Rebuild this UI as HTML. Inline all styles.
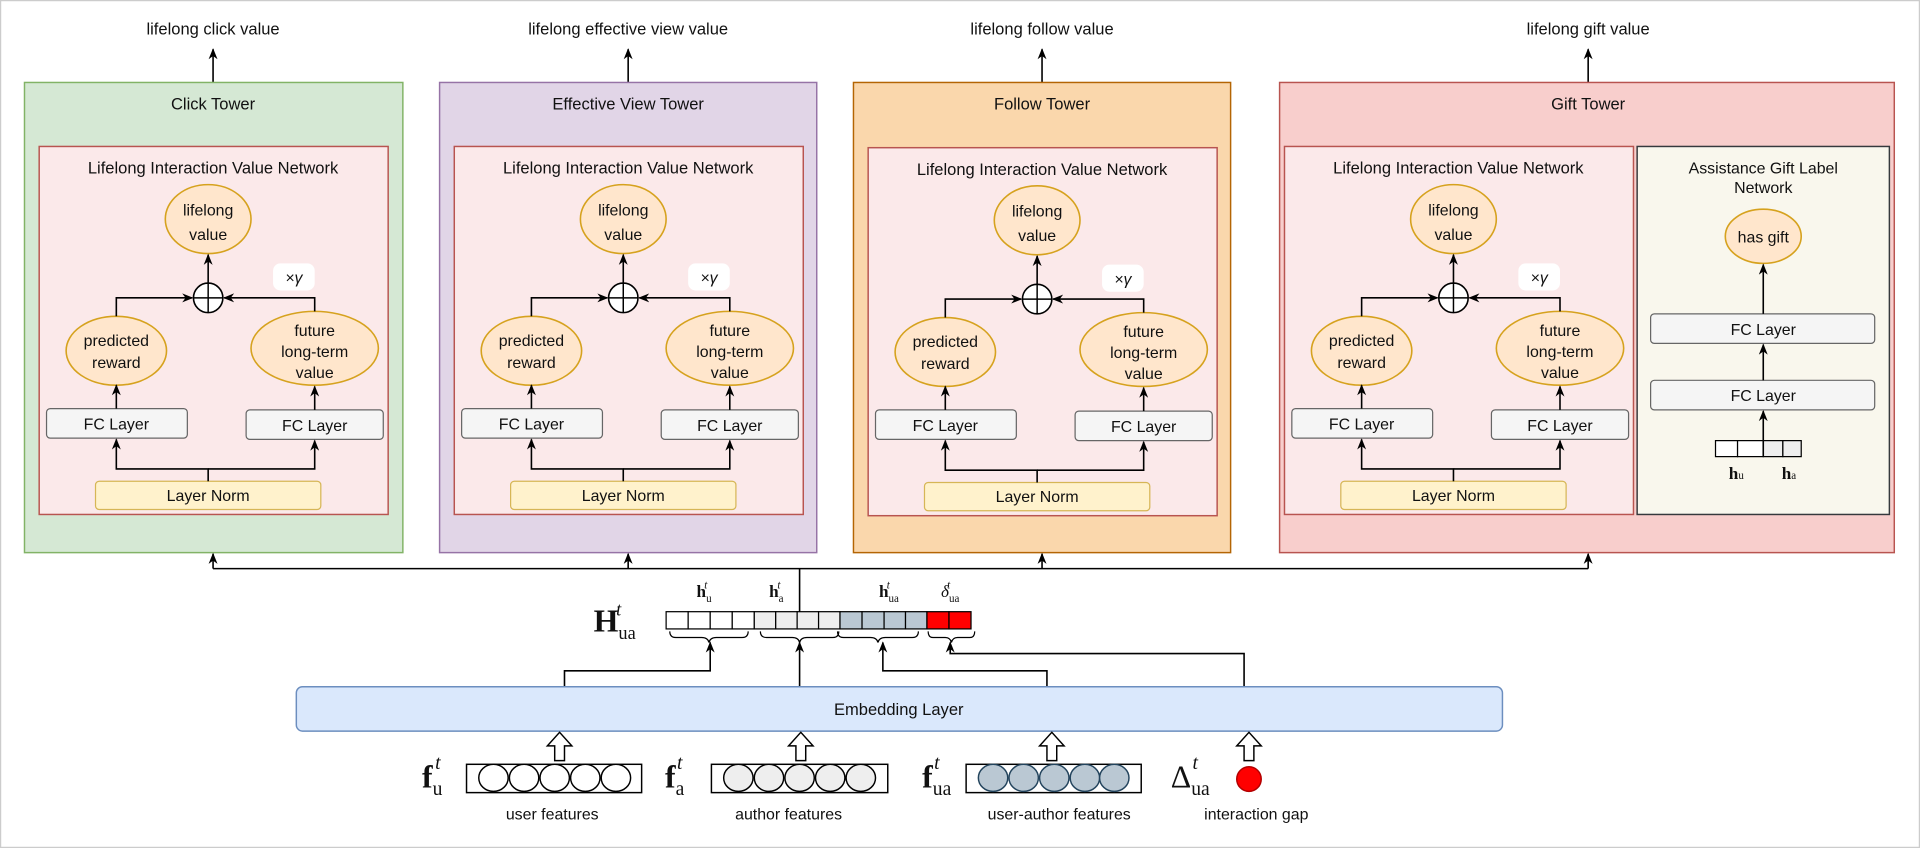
<!DOCTYPE html>
<html><head><meta charset="utf-8"><style>
html,body{margin:0;padding:0;background:#fff;}
svg{display:block;}
text{font-family:"Liberation Sans",sans-serif;fill:#111;}
.m text,text.m{font-family:"Liberation Serif",serif;}
</style></head><body>
<svg width="1920" height="848" viewBox="0 0 1568 689" preserveAspectRatio="none" xmlns="http://www.w3.org/2000/svg">
<defs>
<marker id="a" viewBox="0 0 10 10" refX="9" refY="5" markerWidth="7" markerHeight="7" orient="auto-start-reverse"><path d="M0,1 L10,5 L0,9 L3,5 z" fill="#000"/></marker>
<g id="net">
  <rect x="32" y="119" width="285" height="299" fill="#fbe9ea" stroke="#b85450" stroke-width="1.2"/>
  <text x="174" y="141" font-size="13.5" text-anchor="middle">Lifelong Interaction Value Network</text>
  <ellipse cx="170" cy="178" rx="35" ry="28" fill="#ffe6cc" stroke="#d6a21e" stroke-width="1.3"/>
  <text x="170" y="175" font-size="13" text-anchor="middle">lifelong</text>
  <text x="170" y="195" font-size="13" text-anchor="middle">value</text>
  <circle cx="170" cy="242" r="12" fill="#fff" stroke="#000" stroke-width="1.3"/>
  <path d="M158,242H182M170,230V254" stroke="#000" stroke-width="1.2"/>
  <rect x="223" y="214" width="34" height="22" rx="6" fill="#fff"/>
  <text x="240" y="230" font-size="13" text-anchor="middle" font-style="italic">×γ</text>
  <ellipse cx="95" cy="285" rx="41" ry="28" fill="#ffe6cc" stroke="#d6a21e" stroke-width="1.3"/>
  <text x="95" y="281" font-size="13" text-anchor="middle">predicted</text>
  <text x="95" y="299" font-size="13" text-anchor="middle">reward</text>
  <ellipse cx="257" cy="283" rx="52" ry="30" fill="#ffe6cc" stroke="#d6a21e" stroke-width="1.3"/>
  <text x="257" y="273" font-size="13" text-anchor="middle">future</text>
  <text x="257" y="290" font-size="13" text-anchor="middle">long-term</text>
  <text x="257" y="307" font-size="13" text-anchor="middle">value</text>
  <rect x="38" y="332" width="115" height="24" rx="3" fill="#f5f5f5" stroke="#666"/>
  <text x="95" y="349" font-size="13" text-anchor="middle">FC Layer</text>
  <rect x="201" y="333" width="112" height="24" rx="3" fill="#f5f5f5" stroke="#666"/>
  <text x="257" y="350" font-size="13" text-anchor="middle">FC Layer</text>
  <rect x="78" y="391" width="184" height="23" rx="3" fill="#fff2cc" stroke="#d6b656"/>
  <text x="170" y="407" font-size="13" text-anchor="middle">Layer Norm</text>
  <g stroke="#000" stroke-width="1.3" fill="none">
    <path d="M170,391V381H95V357" marker-end="url(#a)"/>
    <path d="M170,381H257V358" marker-end="url(#a)"/>
    <path d="M95,332V313" marker-end="url(#a)"/>
    <path d="M257,333V314" marker-end="url(#a)"/>
    <path d="M95,257V242H157" marker-end="url(#a)"/>
    <path d="M257,253V242H183" marker-end="url(#a)"/>
    <path d="M170,230V207" marker-end="url(#a)"/>
  </g>
</g>
</defs>
<rect x="0.5" y="0.5" width="1567" height="688" fill="#fff" stroke="#ccc"/>

<g font-size="13.5">
<text x="174" y="28" text-anchor="middle">lifelong click value</text>
<text x="513" y="28" text-anchor="middle">lifelong effective view value</text>
<text x="851" y="28" text-anchor="middle">lifelong follow value</text>
<text x="1297" y="28" text-anchor="middle">lifelong gift value</text>
</g>
<g stroke="#000" stroke-width="1.3" fill="none">
<path d="M174,67V40" marker-end="url(#a)"/>
<path d="M513,67V40" marker-end="url(#a)"/>
<path d="M851,67V40" marker-end="url(#a)"/>
<path d="M1297,67V40" marker-end="url(#a)"/>
</g>

<rect x="20" y="67" width="309" height="382" fill="#d5e8d4" stroke="#82b366" stroke-width="1.2"/>
<text x="174" y="89" font-size="13.5" text-anchor="middle">Click Tower</text>
<use href="#net"/>
<rect x="359" y="67" width="308" height="382" fill="#e1d5e7" stroke="#9673a6" stroke-width="1.2"/>
<text x="513" y="89" font-size="13.5" text-anchor="middle">Effective View Tower</text>
<use href="#net" transform="translate(339,0)"/>
<rect x="697" y="67" width="308" height="382" fill="#fad7ac" stroke="#b46504" stroke-width="1.2"/>
<text x="851" y="89" font-size="13.5" text-anchor="middle">Follow Tower</text>
<use href="#net" transform="translate(677,1)"/>
<rect x="1045" y="67" width="502" height="382" fill="#f8cecc" stroke="#b85450" stroke-width="1.2"/>
<text x="1297" y="89" font-size="13.5" text-anchor="middle">Gift Tower</text>
<use href="#net" transform="translate(1017,0)"/>

<rect x="1337" y="119" width="206" height="299" fill="#f9f7ed" stroke="#36393d" stroke-width="1.2"/>
<text x="1440" y="141" font-size="13" text-anchor="middle">Assistance Gift Label</text>
<text x="1440" y="157" font-size="13" text-anchor="middle">Network</text>
<ellipse cx="1440" cy="192" rx="31" ry="22" fill="#ffe6cc" stroke="#d6a21e" stroke-width="1.3"/>
<text x="1440" y="197" font-size="13" text-anchor="middle">has gift</text>
<rect x="1348" y="255" width="183" height="24" rx="3" fill="#f5f5f5" stroke="#666"/>
<text x="1440" y="272" font-size="13" text-anchor="middle">FC Layer</text>
<rect x="1348" y="309" width="183" height="24" rx="3" fill="#f5f5f5" stroke="#666"/>
<text x="1440" y="326" font-size="13" text-anchor="middle">FC Layer</text>
<g stroke="#000" stroke-width="1">
<rect x="1401" y="358" width="18" height="13" fill="#fff"/><rect x="1419" y="358" width="21" height="13" fill="#fff"/>
<rect x="1440" y="358" width="16" height="13" fill="#eee"/><rect x="1456" y="358" width="15" height="13" fill="#eee"/>
</g>
<g class="m">
<text x="1418" y="389" font-size="14" text-anchor="middle" font-weight="bold">h<tspan font-size="9" font-weight="normal">u</tspan></text>
<text x="1461" y="389" font-size="14" text-anchor="middle" font-weight="bold">h<tspan font-size="9" font-weight="normal">a</tspan></text>
</g>
<g stroke="#000" stroke-width="1.3" fill="none">
<path d="M1440,255V215" marker-end="url(#a)"/>
<path d="M1440,309V280" marker-end="url(#a)"/>
<path d="M1440,371V334" marker-end="url(#a)"/>
</g>

<g stroke="#000" stroke-width="1.3" fill="none">
<path d="M174,462H1297"/>
<path d="M174,462V450" marker-end="url(#a)"/>
<path d="M513,462V450" marker-end="url(#a)"/>
<path d="M851,462V450" marker-end="url(#a)"/>
<path d="M1297,462V450" marker-end="url(#a)"/>
<path d="M653,462V497"/>
</g>

<g stroke="#000" stroke-width="1">
<rect x="544" y="497" width="18" height="14" fill="#fff"/><rect x="562" y="497" width="18" height="14" fill="#fff"/><rect x="580" y="497" width="18" height="14" fill="#fff"/><rect x="598" y="497" width="18" height="14" fill="#fff"/>
<rect x="616" y="497" width="17.5" height="14" fill="#eee"/><rect x="633.5" y="497" width="17.5" height="14" fill="#eee"/><rect x="651" y="497" width="17.5" height="14" fill="#eee"/><rect x="668.5" y="497" width="17.5" height="14" fill="#eee"/>
<rect x="686" y="497" width="18" height="14" fill="#bac8d3"/><rect x="704" y="497" width="18" height="14" fill="#bac8d3"/><rect x="722" y="497" width="17.5" height="14" fill="#bac8d3"/><rect x="739.5" y="497" width="17.5" height="14" fill="#bac8d3"/>
<rect x="757" y="497" width="18" height="14" fill="#f00"/><rect x="775" y="497" width="18" height="14" fill="#f00"/>
</g>
<g class="m" text-anchor="middle">
<text x="575" y="485" font-size="14" font-weight="bold">h<tspan font-size="9" font-weight="normal" dy="4">u</tspan><tspan font-size="9" font-weight="normal" font-style="italic" dx="-6" dy="-11">t</tspan></text>
<text x="634" y="485" font-size="14" font-weight="bold">h<tspan font-size="9" font-weight="normal" dy="4">a</tspan><tspan font-size="9" font-weight="normal" font-style="italic" dx="-5" dy="-11">t</tspan></text>
<text x="726" y="485" font-size="14" font-weight="bold">h<tspan font-size="9" font-weight="normal" dy="4">ua</tspan><tspan font-size="9" font-weight="normal" font-style="italic" dx="-10" dy="-11">t</tspan></text>
<text x="776" y="485" font-size="14" font-style="italic">δ<tspan font-size="9" font-style="normal" dy="4">ua</tspan><tspan font-size="9" dx="-10" dy="-11">t</tspan></text>
<text x="502" y="513" font-size="26" font-weight="bold">H<tspan font-size="15" font-weight="normal" dy="6">ua</tspan><tspan font-size="15" font-weight="normal" font-style="italic" dx="-16" dy="-19">t</tspan></text>
</g>
<g stroke="#000" stroke-width="1" fill="none">
<path d="M547,513q0,5 5,5h21q5,0 6,4q1,-4 6,-4h21q5,0 5,-5"/>
<path d="M621,513q0,5 5,5h21q5,0 6,4q1,-4 6,-4h21q5,0 5,-5"/>
<path d="M684,513q0,5 5,5h22q5,0 6,4q1,-4 6,-4h22q5,0 5,-5"/>
<path d="M758,513q0,5 4,5h10q4,0 5,4q1,-4 5,-4h10q4,0 4,-5"/>
</g>
<g stroke="#000" stroke-width="1.3" fill="none">
<path d="M461,558V545H580V522" marker-end="url(#a)"/>
<path d="M653,558V522" marker-end="url(#a)"/>
<path d="M855,558V545H721V522" marker-end="url(#a)"/>
<path d="M1016,558V531H776V522" marker-end="url(#a)"/>
</g>

<rect x="242" y="558" width="985" height="36" rx="5" fill="#dae8fc" stroke="#6c8ebf" stroke-width="1.2"/>
<text x="734" y="581" font-size="13.5" text-anchor="middle">Embedding Layer</text>

<g fill="#fff" stroke="#000" stroke-width="1.2">
<path d="M453,618V606H447L457,595L467,606H461V618Z"/>
<path d="M650,618V606H644L654,595L664,606H658V618Z"/>
<path d="M855,618V606H849L859,595L869,606H863V618Z"/>
<path d="M1016,618V606H1010L1020,595L1030,606H1024V618Z"/>
</g>

<g stroke="#000" stroke-width="1.2">
<rect x="381" y="621" width="143" height="23" fill="#fff"/>
<g fill="#fff"><ellipse cx="403" cy="632" rx="12" ry="11"/><ellipse cx="428" cy="632" rx="12" ry="11"/><ellipse cx="453" cy="632" rx="12" ry="11"/><ellipse cx="478" cy="632" rx="12" ry="11"/><ellipse cx="503" cy="632" rx="12" ry="11"/></g>
<rect x="581" y="621" width="144" height="23" fill="#fff"/>
<g fill="#eee"><ellipse cx="603" cy="632" rx="12" ry="11"/><ellipse cx="628" cy="632" rx="12" ry="11"/><ellipse cx="653" cy="632" rx="12" ry="11"/><ellipse cx="678" cy="632" rx="12" ry="11"/><ellipse cx="703" cy="632" rx="12" ry="11"/></g>
<rect x="789" y="621" width="143" height="23" fill="#fff"/>
<g fill="#bac8d3" stroke="#23445d"><ellipse cx="811" cy="632" rx="12" ry="11"/><ellipse cx="836" cy="632" rx="12" ry="11"/><ellipse cx="861" cy="632" rx="12" ry="11"/><ellipse cx="886" cy="632" rx="12" ry="11"/><ellipse cx="910" cy="632" rx="12" ry="11"/></g>
<ellipse cx="1020" cy="633" rx="10" ry="10" fill="#f00" stroke="#b20000"/>
</g>
<g class="m" text-anchor="middle">
<text x="353" y="640" font-size="26" font-weight="bold">f<tspan font-size="16" font-weight="normal" dy="6">u</tspan><tspan font-size="16" font-weight="normal" font-style="italic" dx="-6" dy="-21">t</tspan></text>
<text x="551" y="640" font-size="26" font-weight="bold">f<tspan font-size="16" font-weight="normal" dy="6">a</tspan><tspan font-size="16" font-weight="normal" font-style="italic" dx="-6" dy="-21">t</tspan></text>
<text x="765" y="640" font-size="26" font-weight="bold">f<tspan font-size="16" font-weight="normal" dy="6">ua</tspan><tspan font-size="16" font-weight="normal" font-style="italic" dx="-14" dy="-21">t</tspan></text>
<text x="972" y="640" font-size="26">Δ<tspan font-size="16" dy="6">ua</tspan><tspan font-size="16" font-style="italic" dx="-14" dy="-21">t</tspan></text>
</g>
<g font-size="13" text-anchor="middle">
<text x="451" y="666">user features</text>
<text x="644" y="666">author features</text>
<text x="865" y="666">user-author features</text>
<text x="1026" y="666">interaction gap</text>
</g>
</svg>
</body></html>
